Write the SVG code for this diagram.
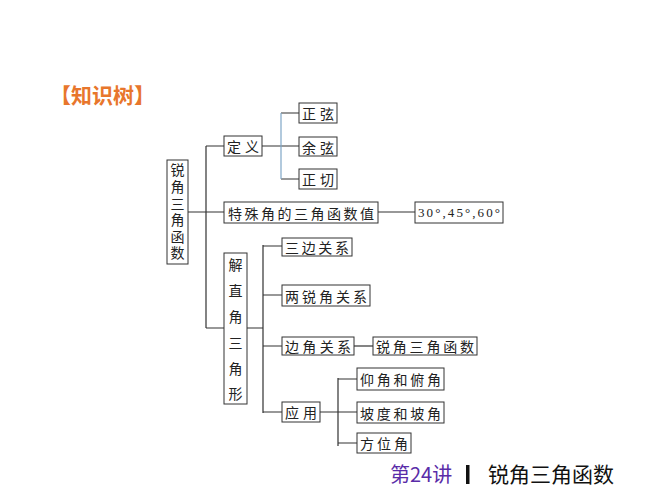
<svg xmlns="http://www.w3.org/2000/svg" width="667" height="500" viewBox="0 0 667 500">
<style>
.box{fill:#fff;stroke:#333;stroke-width:1}
.t{font-family:"Noto Sans CJK SC","Noto Sans",sans-serif;font-size:14px;fill:#222;dominant-baseline:central}
.v{font-family:"Noto Sans CJK SC","Noto Sans",sans-serif;font-size:14px;fill:#222;writing-mode:vertical-rl}
.num{font-family:"Liberation Serif",serif;font-size:13px;fill:#222;dominant-baseline:central}
.ln{stroke:#333;stroke-width:1.2;fill:none}
</style>
<rect width="667" height="500" fill="#fff"/>
<text x="50" y="103" font-family="Noto Sans CJK SC,sans-serif" font-size="21" font-weight="bold" fill="#E8762C">【知识树】</text>

<g id="connectors">
<path class="ln" d="M188 212H224M206 146V328M206 146H224M206 328H224"/>
<path class="ln" d="M262 146H299M281 113H299M281 179H299"/>
<path d="M281 113V179" stroke="#7FA6C6" stroke-width="1.2" fill="none"/>
<path class="ln" d="M378 212H415"/>
<path class="ln" d="M247 328H263M263 245V413M263 246H282M263 295H282M263 346H282M263 412H282"/>
<path class="ln" d="M354 346H373"/>
<path class="ln" d="M320 412H357M338 378V446M338 379H357M338 443H357"/>
</g>

<g id="root"><rect class="box" x="167" y="160" width="21" height="104"/>
<text class="v" x="177.5" y="163" letter-spacing="2.6">锐角三角函数</text></g>

<g id="dingyi"><rect class="box" x="224" y="136" width="38" height="20"/><text class="t" x="227" y="146" textLength="32">定义</text></g>
<g id="zhengxian"><rect class="box" x="299" y="103" width="38" height="20"/><text class="t" x="302" y="113" textLength="32">正弦</text></g>
<g id="yuxian"><rect class="box" x="299" y="137" width="38" height="19"/><text class="t" x="302" y="146.5" textLength="32">余弦</text></g>
<g id="zhengqie"><rect class="box" x="299" y="169" width="38" height="20"/><text class="t" x="302" y="179" textLength="32">正切</text></g>
<g id="teshu"><rect class="box" x="224" y="202" width="154" height="21"/><text class="t" x="228" y="212.5" textLength="146">特殊角的三角函数值</text></g>
<g id="angles"><rect class="box" x="415" y="202" width="88" height="21"/><text class="num" x="418" y="212.5" textLength="82">30°,45°,60°</text></g>

<g id="jie"><rect class="box" x="224" y="253" width="23" height="151"/>
<text class="v" x="235.5" y="258" letter-spacing="11.8">解直角三角形</text></g>

<g id="sanbian"><rect class="box" x="282" y="238" width="70" height="18"/><text class="t" x="285" y="247" textLength="64">三边关系</text></g>
<g id="liangrui"><rect class="box" x="282" y="285" width="88" height="21"/><text class="t" x="285" y="295.5" textLength="82">两锐角关系</text></g>
<g id="bianjiao"><rect class="box" x="282" y="337" width="72" height="18"/><text class="t" x="285" y="346" textLength="66">边角关系</text></g>
<g id="ruijiao"><rect class="box" x="373" y="337" width="104" height="18"/><text class="t" x="376" y="346" textLength="98">锐角三角函数</text></g>
<g id="yingyong"><rect class="box" x="282" y="402" width="38" height="20"/><text class="t" x="285" y="412" textLength="32">应用</text></g>
<g id="yangjiao"><rect class="box" x="357" y="368" width="87" height="22"/><text class="t" x="360" y="379" textLength="81">仰角和俯角</text></g>
<g id="podu"><rect class="box" x="357" y="402" width="87" height="21"/><text class="t" x="360" y="412.5" textLength="81">坡度和坡角</text></g>
<g id="fangwei"><rect class="box" x="357" y="433" width="54" height="20"/><text class="t" x="360" y="443" textLength="48">方位角</text></g>

<text x="390" y="482" font-family="Noto Sans CJK SC,sans-serif" font-size="20" fill="#5A2CA8">第24讲</text>
<rect x="466" y="465" width="3.5" height="19" fill="#111"/>
<text x="488" y="482" font-family="Noto Sans CJK SC,sans-serif" font-size="21" fill="#111">锐角三角函数</text>
</svg>
